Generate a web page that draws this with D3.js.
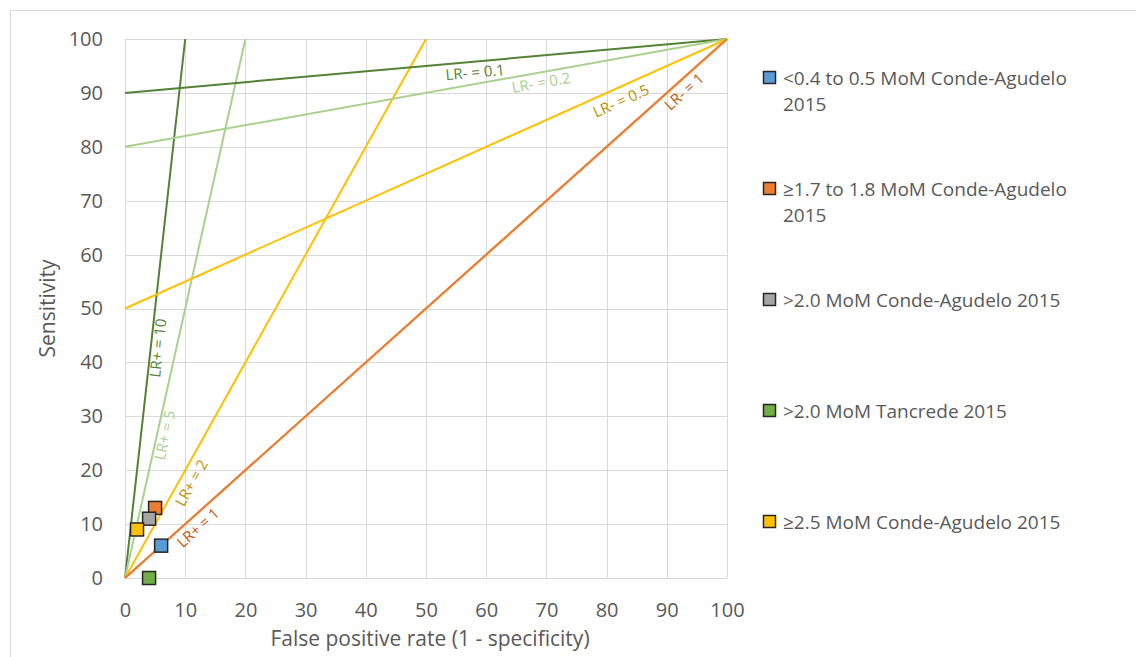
<!DOCTYPE html>
<html>
<head>
<meta charset="utf-8">
<script src="https://cdn.jsdelivr.net/npm/d3@7"></script>
<style>
  html, body { margin: 0; padding: 0; background: #fff; }
  svg { display: block; font-family: "Open Sans", "Noto Sans", sans-serif; }
</style>
</head>
<body>
<svg id="chart" width="1136" height="657"></svg>
<script>
// Study points: false positive rate (%) and sensitivity (%)
const studyNames = [
  "<0.4 to 0.5 MoM Conde-Agudelo 2015",
  "≥1.7 to 1.8 MoM Conde-Agudelo 2015",
  ">2.0 MoM Conde-Agudelo 2015",
  ">2.0 MoM Tancrede 2015",
  "≥2.5 MoM Conde-Agudelo 2015"
];
const studyFpr  = [6, 5, 4, 4, 2];
const studySens = [6, 13, 11, 0, 9];

// Reference lines of constant likelihood ratio (endpoints in % units)
const lrPosLabels = ["LR+ = 10", "LR+ = 5", "LR+ = 2", "LR+ = 1"];
const lrPosFpr    = [[0, 10], [0, 20], [0, 50], [0, 100]];
const lrPosSens   = [[0, 100], [0, 100], [0, 100], [0, 100]];

const lrNegLabels = ["LR- = 0.1", "LR- = 0.2", "LR- = 0.5", "LR- = 1"];
const lrNegFpr    = [[0, 100], [0, 100], [0, 100], [0, 100]];
const lrNegSens   = [[90, 100], [80, 100], [50, 100], [0, 100]];

const xTicks = [0, 10, 20, 30, 40, 50, 60, 70, 80, 90, 100];
const yTicks = [0, 10, 20, 30, 40, 50, 60, 70, 80, 90, 100];

// ---- styling ----
const lineColors  = ["#548235", "#a9d18e", "#ffc000", "#ed7d31"];
const labelColors = ["#548235", "#a9d18e", "#bf9000", "#c55a11"];
const pointColors = ["#5b9bd5", "#ed7d31", "#a5a5a5", "#70ad47", "#ffc000"];
const textColor = "#595959";
const gridColor = "#d9d9d9";

const svg = d3.select("#chart");

// outer frame
svg.append("rect")
  .attr("x", 10.5).attr("y", 10.5)
  .attr("width", 1140).attr("height", 660)
  .attr("fill", "none").attr("stroke", "#d9d9d9").attr("stroke-width", 1);

const plot = { left: 125, right: 727, top: 39, bottom: 578 };

const x = d3.scaleLinear().domain([0, 100]).range([plot.left, plot.right]);
const y = d3.scaleLinear().domain([0, 100]).range([plot.bottom, plot.top]);

// gridlines
const grid = svg.append("g");
grid.selectAll("line.v").data(xTicks).join("line")
  .attr("x1", d => Math.round(x(d)) + 0.5).attr("x2", d => Math.round(x(d)) + 0.5)
  .attr("y1", plot.top).attr("y2", plot.bottom)
  .attr("stroke", gridColor).attr("stroke-width", 1);
grid.selectAll("line.h").data(yTicks).join("line")
  .attr("y1", d => Math.round(y(d)) + 0.5).attr("y2", d => Math.round(y(d)) + 0.5)
  .attr("x1", plot.left).attr("x2", plot.right)
  .attr("stroke", gridColor).attr("stroke-width", 1);

// axes (tick labels only)
const xAxis = svg.append("g")
  .attr("transform", `translate(0,${plot.bottom})`)
  .call(d3.axisBottom(x).tickValues(xTicks).tickSize(0).tickPadding(25));
const yAxis = svg.append("g")
  .attr("transform", `translate(${plot.left},0)`)
  .call(d3.axisLeft(y).tickValues(yTicks).tickSize(0).tickPadding(22));
[xAxis, yAxis].forEach(g => {
  g.select(".domain").remove();
  g.selectAll("text")
    .attr("fill", textColor)
    .style("font-size", "20px")
    .style("font-family", "'Open Sans', 'Noto Sans', sans-serif");
});

// axis titles
svg.append("text")
  .attr("x", 430).attr("y", 646)
  .attr("text-anchor", "middle")
  .attr("fill", textColor).style("font-size", "21px")
  .text("False positive rate (1 - specificity)");
svg.append("text")
  .attr("transform", `translate(55,${(plot.top + plot.bottom) / 2}) rotate(-90)`)
  .attr("text-anchor", "middle")
  .attr("fill", textColor).style("font-size", "21px")
  .text("Sensitivity");

// likelihood-ratio lines
const lineGen = d3.line().x(d => x(d[0])).y(d => y(d[1]));
const linesG = svg.append("g");

function drawRefLines(fprs, senss) {
  fprs.forEach((f, i) => {
    const pts = f.map((v, j) => [v, senss[i][j]]);
    linesG.append("path")
      .attr("d", lineGen(pts))
      .attr("fill", "none")
      .attr("stroke", lineColors[i])
      .attr("stroke-width", 2);
  });
}
drawRefLines(lrPosFpr, lrPosSens);
drawRefLines(lrNegFpr, lrNegSens);

// label placement: fraction along each line and baseline offset below it (px)
const posLabelAt  = [0.428, 0.268, 0.187, 0.109];
const posLabelOff = [12.5, 13, 17, 16.5];
const negLabelAt  = [0.58, 0.688, 0.815, 0.917];
const negLabelOff = [16, 15.5, 18.5, 16];

function drawRefLabels(labels, fprs, senss, fracs, offs) {
  labels.forEach((lab, i) => {
    const [f0, f1] = fprs[i], [s0, s1] = senss[i];
    const t = fracs[i];
    const px = x(f0 + (f1 - f0) * t), py = y(s0 + (s1 - s0) * t);
    const ang = Math.atan2(y(s1) - y(s0), x(f1) - x(f0)) * 180 / Math.PI;
    svg.append("text")
      .attr("transform", `translate(${px},${py}) rotate(${ang})`)
      .attr("y", offs[i])
      .attr("text-anchor", "middle")
      .attr("fill", labelColors[i])
      .style("font-size", "15px")
      .text(lab);
  });
}
drawRefLabels(lrPosLabels, lrPosFpr, lrPosSens, posLabelAt, posLabelOff);
drawRefLabels(lrNegLabels, lrNegFpr, lrNegSens, negLabelAt, negLabelOff);

// study markers
const size = 13;
svg.append("g").selectAll("rect").data(studyFpr).join("rect")
  .attr("x", (d, i) => x(d) - size / 2)
  .attr("y", (d, i) => y(studySens[i]) - size / 2)
  .attr("width", size).attr("height", size)
  .attr("fill", (d, i) => pointColors[i])
  .attr("stroke", "#262626").attr("stroke-width", 1.5);

// legend
const legendRows = [
  [78, ["<0.4 to 0.5 MoM Conde-Agudelo", "2015"]],
  [189, ["≥1.7 to 1.8 MoM Conde-Agudelo", "2015"]],
  [300, [">2.0 MoM Conde-Agudelo 2015"]],
  [411, [">2.0 MoM Tancrede 2015"]],
  [522, ["≥2.5 MoM Conde-Agudelo 2015"]]
];
const legend = svg.append("g");
studyNames.forEach((name, i) => {
  const cy = legendRows[i][0];
  legend.append("rect")
    .attr("x", 763.5).attr("y", cy - 6.5)
    .attr("width", 12).attr("height", 12)
    .attr("fill", pointColors[i])
    .attr("stroke", "#262626").attr("stroke-width", 1.5);
  const t = legend.append("text")
    .attr("x", 783).attr("y", cy + 7)
    .attr("fill", textColor).style("font-size", "19px");
  legendRows[i][1].forEach((ln, k) => {
    t.append("tspan").attr("x", 783).attr("dy", k === 0 ? 0 : 26).text(ln);
  });
});
</script>
</body>
</html>
